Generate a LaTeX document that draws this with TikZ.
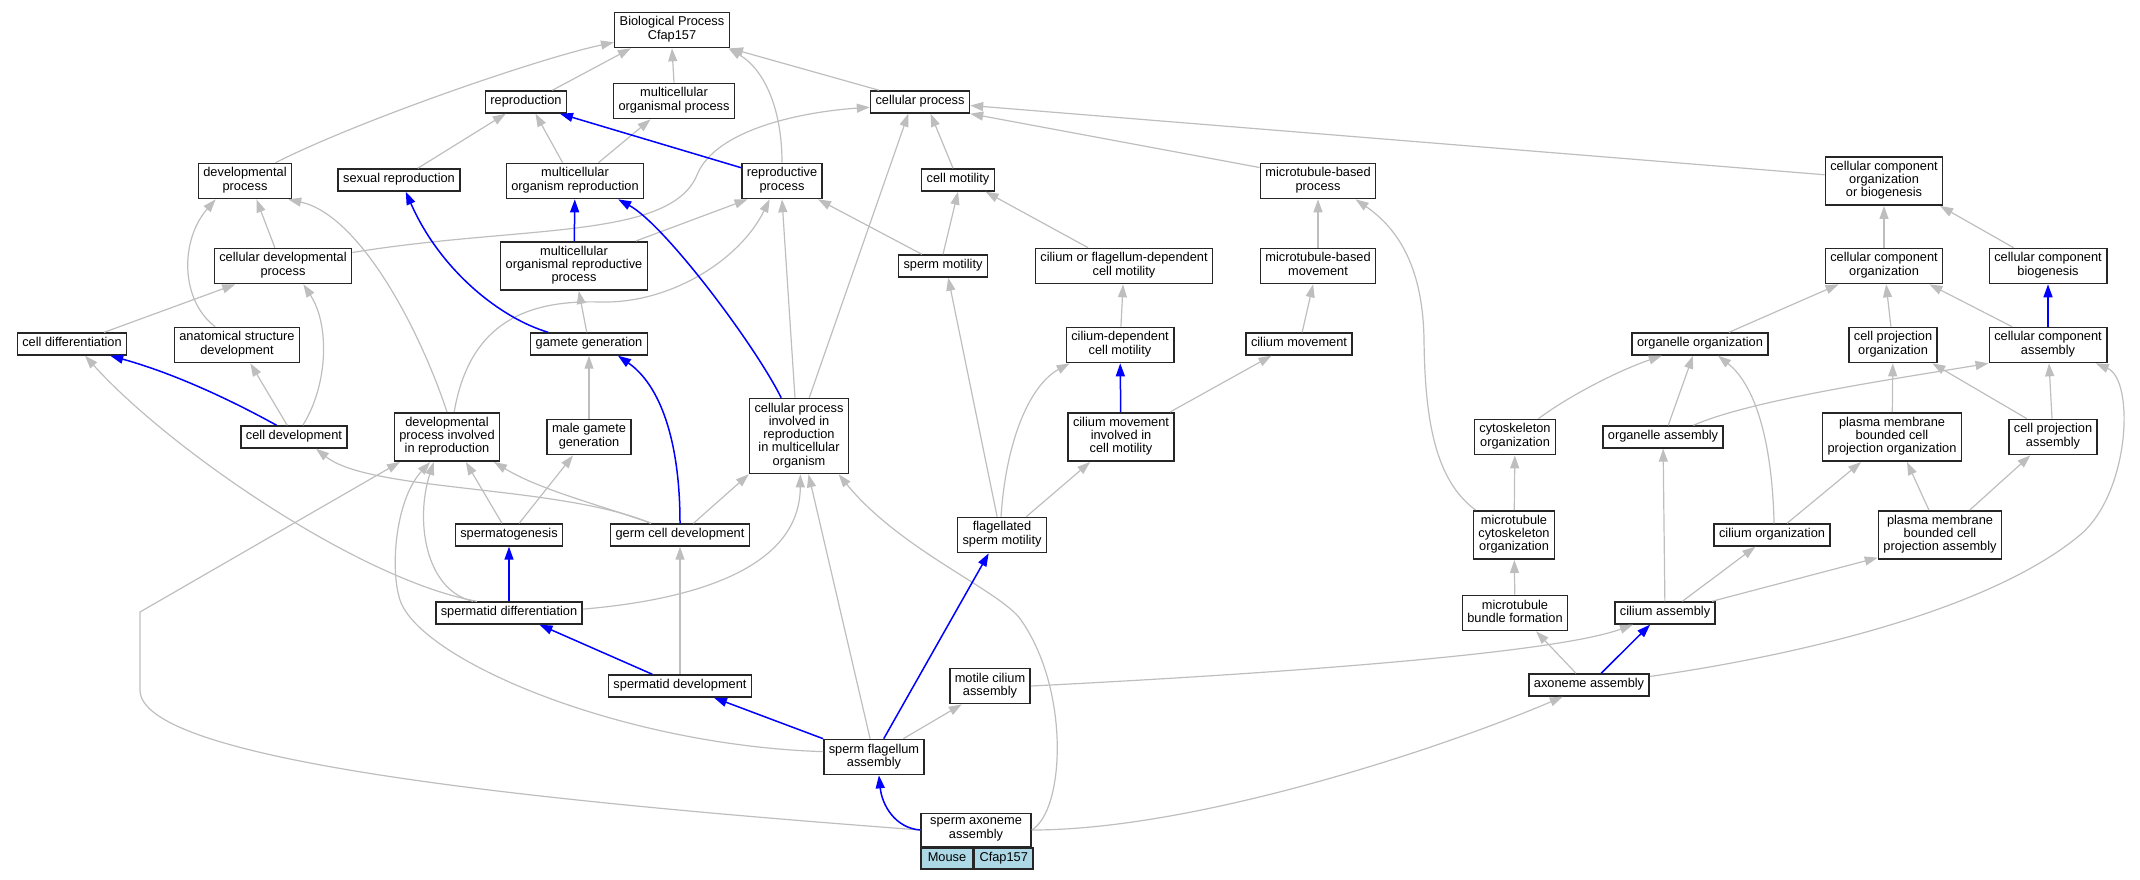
\documentclass[tikz,border=0pt]{standalone}
\usepackage{fontspec}
\setmainfont{Liberation Sans}
\usepackage{xcolor}
\usepackage{tikz}
\usetikzlibrary{arrows.meta, positioning}
\definecolor{mygray}{RGB}{190, 190, 190}
\definecolor{myblue}{RGB}{0, 0, 255}
\definecolor{mylightblue}{RGB}{173, 216, 230}
\newcommand{\gofont}{\fontsize{12.8pt}{13.3pt}\selectfont}

\begin{document}
\begin{tikzpicture}[x=1pt, y=-1pt,
    term/.style={draw=black!85, line width=1.5pt, fill=white, align=center, font=\gofont,
                 inner xsep=5pt, inner ysep=4.3pt,
                 execute at begin node=\strut, execute at end node=\strut},
    cell/.style={term, fill=mylightblue, inner ysep=3.5pt, minimum height=21pt},
    grayedge/.style={draw=mygray, line width=1.2pt, -{Triangle[length=13pt, width=9pt]}},
    blueedge/.style={draw=myblue, line width=1.5pt, -{Triangle[length=13pt, width=9pt]}}]
    \useasboundingbox (0,0) rectangle (2140,880);

    % 节点
    \node[term] (bp) at (672,30) {Biological Process\\Cfap157};
    \node[term] (rep) at (526,102) {reproduction};
    \node[term] (mop) at (674,101) {multicellular\\organismal process};
    \node[term] (cp) at (920,102) {cellular process};
    \node[term] (devp) at (245,181) {developmental\\process};
    \node[term] (sexr) at (399,180) {sexual reproduction};
    \node[term] (mor) at (575,181) {multicellular\\organism reproduction};
    \node[term] (rpp) at (782,181) {reproductive\\process};
    \node[term] (cmot) at (958,180) {cell motility};
    \node[term] (mbp) at (1318,181) {microtubule-based\\process};
    \node[term] (ccob) at (1884,181) {cellular component\\organization\\or biogenesis};
    \node[term] (cdp) at (283,266) {cellular developmental\\process};
    \node[term] (morp) at (574,266) {multicellular\\organismal reproductive\\process};
    \node[term] (smot) at (943,266) {sperm motility};
    \node[term] (cfdm) at (1124,266) {cilium or flagellum-dependent\\cell motility};
    \node[term] (mbm) at (1318,266) {microtubule-based\\movement};
    \node[term] (cco) at (1884,266) {cellular component\\organization};
    \node[term] (ccb) at (2048,266) {cellular component\\biogenesis};
    \node[term] (cdiff) at (72,344) {cell differentiation};
    \node[term] (asd) at (237,345) {anatomical structure\\development};
    \node[term] (gg) at (589,344) {gamete generation};
    \node[term] (cdcm) at (1120,345) {cilium-dependent\\cell motility};
    \node[term] (cmov) at (1299,344) {cilium movement};
    \node[term] (oorg) at (1700,344) {organelle organization};
    \node[term] (cpo) at (1893,345) {cell projection\\organization};
    \node[term] (cca) at (2048,345) {cellular component\\assembly};
    \node[term] (cdev) at (294,437) {cell development};
    \node[term] (dpir) at (447,437) {developmental\\process involved\\in reproduction};
    \node[term] (mgg) at (589,437) {male gamete\\generation};
    \node[term] (cpir) at (799,436) {cellular process\\involved in\\reproduction\\in multicellular\\organism};
    \node[term] (cmicm) at (1121,437) {cilium movement\\involved in\\cell motility};
    \node[term] (cyto) at (1515,437) {cytoskeleton\\organization};
    \node[term] (oasm) at (1663,437) {organelle assembly};
    \node[term] (pmpo) at (1892,437) {plasma membrane\\bounded cell\\projection organization};
    \node[term] (cpa) at (2053,437) {cell projection\\assembly};
    \node[term] (spg) at (509,535) {spermatogenesis};
    \node[term] (gcd) at (680,535) {germ cell development};
    \node[term] (fsm) at (1002,535) {flagellated\\sperm motility};
    \node[term] (mco) at (1514,535) {microtubule\\cytoskeleton\\organization};
    \node[term] (corg) at (1772,535) {cilium organization};
    \node[term] (pmpa) at (1940,535) {plasma membrane\\bounded cell\\projection assembly};
    \node[term] (sdiff) at (509,613) {spermatid differentiation};
    \node[term] (mbf) at (1515,613) {microtubule\\bundle formation};
    \node[term] (casm) at (1665,613) {cilium assembly};
    \node[term] (sdev) at (680,686) {spermatid development};
    \node[term] (mca) at (990,686) {motile cilium\\assembly};
    \node[term] (aasm) at (1589,685) {axoneme assembly};
    \node[term] (sfa) at (874,757) {sperm flagellum\\assembly};
    \node[term, minimum width=110pt] (saa) at (976,830) {sperm axoneme\\assembly};

    % 物种与基因
    \node[cell, minimum width=52pt, below right=0pt and 0pt of saa.south west] (mouse) {Mouse};
    \node[cell, minimum width=58pt, right=0pt of mouse] (gene) {Cfap157};

    % 灰色连线
    \draw[grayedge] (devp.31) .. controls (360,120) and (540,58) .. (bp.192);
    \draw[grayedge] (rep.24) -- (bp.204);
    \draw[grayedge] (mop.north) -- (bp.south);
    \draw[grayedge] (rpp.north) .. controls (782,110) and (765,70) .. (bp.-18);
    \draw[grayedge] (cp.164) -- (bp.south east);
    \draw[grayedge] (sexr.32) -- (rep.210);
    \draw[grayedge] (mor.124) -- (rep.309);
    \draw[grayedge] (mor.38) -- (mop.218);
    \draw[grayedge] (cdp.114) -- (devp.302);
    \draw[grayedge] (cdp.11) .. controls (520,225) and (670,240) .. (697,175)
                             .. controls (715,130) and (800,112) .. (cp.186);
    \draw[grayedge] (asd.140) .. controls (180,300) and (180,240) .. (devp.212);
    \draw[grayedge] (dpir.north) .. controls (420,330) and (360,215) .. (devp.-23);
    \draw[grayedge] (dpir.74) .. controls (470,320) and (530,300) .. (600,302)
                              .. controls (670,304) and (740,260) .. (rpp.236);
    \draw[grayedge] (morp.22) -- (rpp.208);
    \draw[grayedge] (gg) -- (morp);
    \draw[grayedge] (cdiff.20) -- (cdp.201);
    \draw[grayedge] (cdev.120) -- (asd.306);
    \draw[grayedge] (cdev.53) .. controls (328,385) and (330,325) .. (cdp.318);
    \draw[grayedge] (mgg) -- (gg);
    \draw[grayedge] (cpir.96) -- (rpp.south);
    \draw[grayedge] (cpir.75) -- (cp.225);
    \draw[grayedge] (cmot.113) -- (cp.312);
    \draw[grayedge] (mbp.167) -- (cp.south east);
    \draw[grayedge] (ccob.174) -- (cp.-4);
    \draw[grayedge] (smot.151) -- (rpp.333);
    \draw[grayedge] (smot.north) -- (cmot.south);
    \draw[grayedge] (cfdm.153) -- (cmot.337);
    \draw[grayedge] (mbm) -- (mbp);
    \draw[grayedge] (cdcm) -- (cfdm);
    \draw[grayedge] (cmov.75) -- (mbm.255);
    \draw[grayedge] (cmicm.27) -- (cmov.203);
    \draw[grayedge] (mco.147) .. controls (1435,480) and (1425,420) .. (1424,340)
                              .. controls (1423,270) and (1400,230) .. (mbp.334);
    \draw[grayedge] (spg.121) -- (dpir.307);
    \draw[grayedge] (spg.49) -- (mgg.229);
    \draw[grayedge] (gcd.158) .. controls (560,485) and (370,492) .. (cdev.332);
    \draw[grayedge] (gcd.158) .. controls (600,505) and (540,490) .. (dpir.332);
    \draw[grayedge] (gcd.41) -- (cpir.south west);
    \draw[grayedge] (sdiff.160) .. controls (360,580) and (170,450) .. (cdiff.318);
    \draw[grayedge] (sdiff.162) .. controls (425,590) and (415,520) .. (dpir.242);
    \draw[grayedge] (sdiff.3) .. controls (690,600) and (800,570) .. (cpir.272);
    \draw[grayedge] (sdev) -- (gcd);
    \draw[grayedge] (sfa.174) .. controls (620,745) and (420,660) .. (400,600)
                              .. controls (390,570) and (395,500) .. (dpir.236);
    \draw[grayedge] (sfa.102) -- (cpir.284);
    \draw[grayedge] (sfa.32) -- (mca.213);
    \draw[grayedge] (fsm.105) -- (smot.294);
    \draw[grayedge] (fsm.93) .. controls (1006,440) and (1030,385) .. (cdcm.200);
    \draw[grayedge] (fsm.37) -- (cmicm.219);
    \draw[grayedge] (mca.east) .. controls (1250,675) and (1550,655) .. (casm.200);
    \draw[grayedge] (saa.west) .. controls (520,800) and (140,760) .. (140,690) -- (140,612) -- (dpir.208);
    \draw[grayedge] (saa.east) .. controls (1065,810) and (1070,690) .. (1021,620)
                               .. controls (1001,591) and (900,550) .. (cpir.316);
    \draw[grayedge] (saa.east) .. controls (1200,830) and (1450,745) .. (aasm.204);
    \draw[grayedge] (aasm.138) -- (mbf.319);
    \draw[grayedge] (aasm.8) .. controls (1800,655) and (1990,610) .. (2080,535)
                             .. controls (2130,493) and (2135,380) .. (cca.339);
    \draw[grayedge] (mbf) -- (mco);
    \draw[grayedge] (mco) -- (cyto);
    \draw[grayedge] (casm) -- (oasm);
    \draw[grayedge] (casm.34) -- (corg.215);
    \draw[grayedge] (casm.14) -- (pmpa.200);
    \draw[grayedge] (corg.80) .. controls (1772,440) and (1755,385) .. (oorg.327);
    \draw[grayedge] (corg.38) -- (pmpo.219);
    \draw[grayedge] (pmpa.114) -- (pmpo.301);
    \draw[grayedge] (pmpa.40) -- (cpa.219);
    \draw[grayedge] (cyto.38) .. controls (1570,395) and (1620,370) .. (oorg.197);
    \draw[grayedge] (oasm.66) -- (oorg.239);
    \draw[grayedge] (oasm.21) .. controls (1750,400) and (1900,378) .. (cca.south west);
    \draw[grayedge] (pmpo) -- (cpo);
    \draw[grayedge] (cpa.145) -- (cpo.335);
    \draw[grayedge] (cpa) -- (cca);
    \draw[grayedge] (oorg.22) -- (cco.202);
    \draw[grayedge] (cpo) -- (cco);
    \draw[grayedge] (cca.153) -- (cco.338);
    \draw[grayedge] (cco) -- (ccob);
    \draw[grayedge] (ccb.152) -- (ccob.336);

    % 蓝色连线
    \draw[blueedge] (rpp.162) -- (rep.341);
    \draw[blueedge] (morp) -- (mor);
    \draw[blueedge] (gg.164) .. controls (500,318) and (440,270) .. (sexr.300);
    \draw[blueedge] (cdev.146) .. controls (240,405) and (180,375) .. (cdiff.343);
    \draw[blueedge] (gcd.north) .. controls (680,440) and (660,385) .. (gg.338);
    \draw[blueedge] (cpir.115) .. controls (755,345) and (665,225) .. (mor.337);
    \draw[blueedge] (cmicm) -- (cdcm);
    \draw[blueedge] (sdiff) -- (spg);
    \draw[blueedge] (sdev.157) -- (sdiff.339);
    \draw[blueedge] (sfa.north west) -- (sdev.341);
    \draw[blueedge] (sfa.62) -- (fsm.234);
    \draw[blueedge] (saa.west) .. controls (895,828) and (882,805) .. (sfa.285);
    \draw[blueedge] (aasm.44) -- (casm.218);
    \draw[blueedge] (cca) -- (ccb);
\end{tikzpicture}
\end{document}
